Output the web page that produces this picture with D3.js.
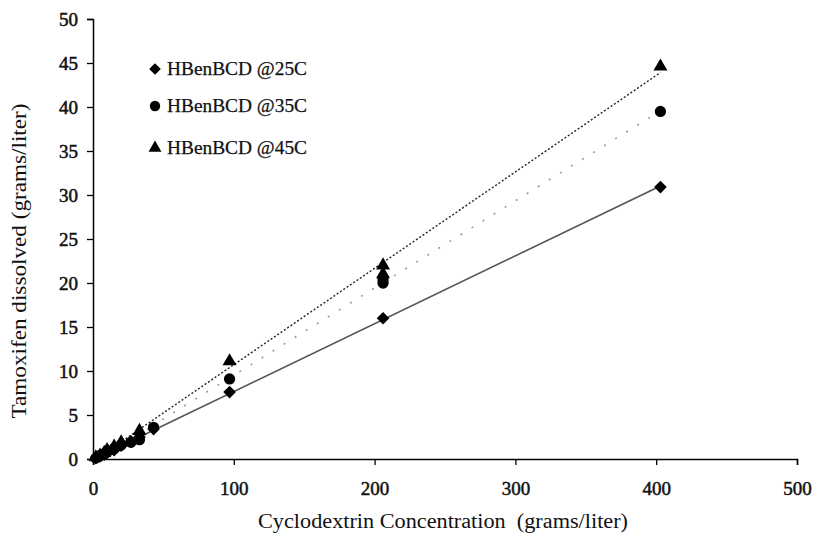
<!DOCTYPE html>
<html><head><meta charset="utf-8">
<script src="https://cdn.jsdelivr.net/npm/d3@7/dist/d3.min.js"></script>
<style>body{margin:0;background:#fff;}</style>
</head><body>
<svg id="c" width="814" height="535"></svg>
<script>
const xTicks = [0,100,200,300,400,500];
const yTicks = [0,5,10,15,20,25,30,35,40,45,50];
const seriesNames = ["HBenBCD @25C","HBenBCD @35C","HBenBCD @45C"];
const x25 = [2,5,8,10,15,20,27,33,43,97,206,403];
const y25 = [0.1,0.3,0.5,0.7,1.0,1.5,2.0,2.5,3.4,7.6,16.0,30.9];
const x35 = [2,5,8,10,15,20,27,33,43,97,206,206,403];
const y35 = [0.1,0.4,0.6,0.8,1.2,1.6,1.9,2.2,3.6,9.1,20.0,20.4,39.5];
const x45 = [2,5,8,10,15,20,33,97,206,206,403];
const y45 = [0.2,0.4,0.7,1.0,1.4,1.9,3.2,11.1,21.0,22.0,44.6];

const svg = d3.select("#c");
const ml=93, mt=19, W=797-93, H=459-19;
const x = d3.scaleLinear().domain([0,500]).range([ml, ml+W]);
const y = d3.scaleLinear().domain([0,50]).range([mt+H, mt]);
const font = "Liberation Serif, DejaVu Serif, serif";

const squareDiamond = {draw(ctx,size){const r=Math.sqrt(size)/Math.SQRT2;ctx.moveTo(0,-r);ctx.lineTo(r,0);ctx.lineTo(0,r);ctx.lineTo(-r,0);ctx.closePath();}};

const series = [
  {name:seriesNames[0], xs:x25, ys:y25, sym:squareDiamond, size:80, line:{stroke:"#555", dash:null, w:1.6}},
  {name:seriesNames[1], xs:x35, ys:y35, sym:d3.symbolCircle, size:100, line:{stroke:"#999", dash:"2,11", w:1.6}},
  {name:seriesNames[2], xs:x45, ys:y45, sym:d3.symbolTriangle, size:85, line:{stroke:"#222", dash:"2,2", w:1.4}}
];

function fit(xs, ys){
  const mx=d3.mean(xs), my=d3.mean(ys);
  let sxy=0,sxx=0;
  xs.forEach((v,i)=>{sxy+=(v-mx)*(ys[i]-my); sxx+=(v-mx)*(v-mx);});
  const b=sxy/sxx; return {b, a:my-b*mx};
}

// axes
const gx = svg.append("g").attr("transform",`translate(0,${mt+H})`)
  .call(d3.axisBottom(x).tickValues(xTicks).tickSize(6).tickPadding(17));
const gy = svg.append("g").attr("transform",`translate(${ml},0)`)
  .call(d3.axisLeft(y).tickValues(yTicks).tickSize(6).tickPadding(9));
[gx,gy].forEach(g=>{
  g.attr("font-family",font);
  g.select(".domain").attr("stroke","#000").attr("stroke-width",1.5);
  g.selectAll(".tick line").attr("stroke","#000").attr("stroke-width",1.3);
  g.selectAll("text").attr("font-family",font).attr("font-size",19).attr("fill","#111")
    .attr("stroke","#111").attr("stroke-width",0.5);
});

// trend lines
series.forEach(s=>{
  const f=fit(s.xs,s.ys);
  const x0=d3.min(s.xs), x1=d3.max(s.xs);
  svg.append("line")
    .attr("x1",x(x0)).attr("y1",y(f.a+f.b*x0))
    .attr("x2",x(x1)).attr("y2",y(f.a+f.b*x1))
    .attr("stroke",s.line.stroke).attr("stroke-width",s.line.w)
    .attr("stroke-dasharray",s.line.dash);
});

// points
series.forEach(s=>{
  svg.append("g").selectAll("path").data(s.xs.map((v,i)=>[v,s.ys[i]])).join("path")
    .attr("transform",d=>`translate(${x(d[0])},${y(d[1])})`)
    .attr("d",d3.symbol().type(s.sym).size(s.size))
    .attr("fill","#000");
});

// legend
const ly=[69,106,148];
series.forEach((s,i)=>{
  svg.append("path").attr("transform",`translate(155,${ly[i]})`)
    .attr("d",d3.symbol().type(s.sym).size(s.size*0.85)).attr("fill","#000");
  svg.append("text").attr("x",167).attr("y",ly[i]+6).text(s.name)
    .attr("textLength",140).attr("lengthAdjust","spacingAndGlyphs")
    .attr("font-family",font).attr("font-size",19).attr("fill","#111")
    .attr("stroke","#111").attr("stroke-width",0.25);
});

// titles
svg.append("text").attr("x",443).attr("y",528).attr("text-anchor","middle")
  .attr("font-family",font).attr("font-size",20).attr("fill","#111").attr("xml:space","preserve")
  .attr("textLength",370).attr("lengthAdjust","spacingAndGlyphs")
  .text("Cyclodextrin Concentration  (grams/liter)");
svg.append("text").attr("transform",`translate(26,261) rotate(-90)`).attr("text-anchor","middle")
  .attr("font-family",font).attr("font-size",20).attr("fill","#111")
  .attr("textLength",315).attr("lengthAdjust","spacingAndGlyphs")
  .text("Tamoxifen dissolved (grams/liter)");
</script>
</body></html>
